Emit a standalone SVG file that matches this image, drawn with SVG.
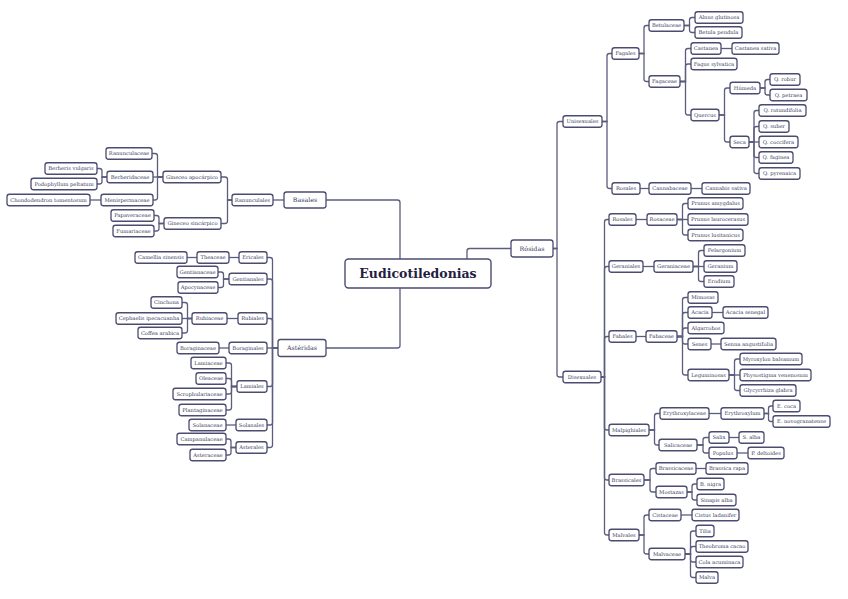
<svg xmlns="http://www.w3.org/2000/svg" width="848" height="599" viewBox="0 0 848 599">
<style>
.n rect{fill:#fff;stroke:#4b4c70;stroke-width:1.3}
.n text{font-family:"DejaVu Serif","Liberation Serif",serif;font-size:5.2px;fill:#3a3b5c;text-anchor:middle}
.l1 text{font-size:6.3px}
.root rect{stroke-width:1.4}
.root text{font-size:12.5px;font-weight:bold;fill:#1f2040}
.c path{fill:none;stroke:#5b5c7e;stroke-width:1.3}
</style>
<rect width="848" height="599" fill="#fff"/>
<g class="c" id="connectors">
<path d="M326 200H397.5Q400 200 400 202.5V259"/>
<path d="M467 259V251Q467 248.5 469.5 248.5H511"/>
<path d="M400 288V345.5Q400 348 397.5 348H326"/>
<path d="M553 248.5H557V124Q557 121.5 559.5 121.5H563"/>
<path d="M553 248.5H557V374.5Q557 377 559.5 377H563"/>
<path d="M602 121.5H607V56Q607 53.5 609.5 53.5H612"/>
<path d="M602 121.5H607V186Q607 188.5 609.5 188.5H612"/>
<path d="M639 53.5H644V28Q644 25.5 646.5 25.5H649"/>
<path d="M639 53.5H644V79Q644 81.5 646.5 81.5H649"/>
<path d="M684 25.5H689.5V20Q689.5 17.5 692 17.5H695"/>
<path d="M684 25.5H689.5V30Q689.5 32.5 692 32.5H695"/>
<path d="M680 81.5H685.5V51Q685.5 48.5 688 48.5H691"/>
<path d="M680 81.5H685.5V66.5Q685.5 64 688 64H691"/>
<path d="M680 81.5H685.5V112.5Q685.5 115 688 115H691"/>
<path d="M721 48.5H732"/>
<path d="M719 115H724.5V90.5Q724.5 88 727 88H730"/>
<path d="M719 115H724.5V139.5Q724.5 142 727 142H730"/>
<path d="M760 88H765V82Q765 79.5 767.5 79.5H770"/>
<path d="M760 88H765V92.5Q765 95 767.5 95H770"/>
<path d="M749 142H754V113Q754 110.5 756.5 110.5H759"/>
<path d="M749 142H754V129Q754 126.5 756.5 126.5H759"/>
<path d="M749 142H759"/>
<path d="M749 142H754V155Q754 157.5 756.5 157.5H759"/>
<path d="M749 142H754V171Q754 173.5 756.5 173.5H759"/>
<path d="M640 188.5H649"/>
<path d="M691 188.5H702"/>
<path d="M601 377H604.5V222Q604.5 219.5 607 219.5H609"/>
<path d="M601 377H604.5V269Q604.5 266.5 607 266.5H609"/>
<path d="M601 377H604.5V339Q604.5 336.5 607 336.5H609"/>
<path d="M601 377H604.5V427.5Q604.5 430 607 430H609"/>
<path d="M601 377H604.5V477.5Q604.5 480 607 480H609"/>
<path d="M601 377H604.5V532.5Q604.5 535 607 535H609"/>
<path d="M636 219.5H647"/>
<path d="M677 219.5H682.5V206Q682.5 203.5 685 203.5H688"/>
<path d="M677 219.5H688"/>
<path d="M677 219.5H682.5V232.5Q682.5 235 685 235H688"/>
<path d="M643 266.5H654"/>
<path d="M693 266.5H698.5V253Q698.5 250.5 701 250.5H704"/>
<path d="M693 266.5H704"/>
<path d="M693 266.5H698.5V279Q698.5 281.5 701 281.5H704"/>
<path d="M636 336.5H646"/>
<path d="M677 336.5H682.5V300Q682.5 297.5 685 297.5H688"/>
<path d="M677 336.5H682.5V315Q682.5 312.5 685 312.5H688"/>
<path d="M677 336.5H682.5V330.5Q682.5 328 685 328H688"/>
<path d="M677 336.5H682.5V341.5Q682.5 344 685 344H688"/>
<path d="M677 336.5H682.5V372.5Q682.5 375 685 375H688"/>
<path d="M712 312.5H723"/>
<path d="M711 344H721"/>
<path d="M729 375H734.5V361.5Q734.5 359 737 359H740"/>
<path d="M729 375H740"/>
<path d="M729 375H734.5V388Q734.5 390.5 737 390.5H740"/>
<path d="M649 430H654.5V416Q654.5 413.5 657 413.5H660"/>
<path d="M649 430H654.5V442.5Q654.5 445 657 445H659"/>
<path d="M709 413.5H721"/>
<path d="M764 413.5H768.5V408.5Q768.5 406 771 406H773"/>
<path d="M764 413.5H768.5V419Q768.5 421.5 771 421.5H773"/>
<path d="M697 445H703V440Q703 437.5 705.5 437.5H709"/>
<path d="M697 445H703V450.5Q703 453 705.5 453H709"/>
<path d="M729 437.5H739"/>
<path d="M737 453H748"/>
<path d="M644 480H650V471Q650 468.5 652.5 468.5H656"/>
<path d="M644 480H650V489.5Q650 492 652.5 492H656"/>
<path d="M696 468.5H706"/>
<path d="M687 492H692V486.5Q692 484 694.5 484H697"/>
<path d="M687 492H692V497.5Q692 500 694.5 500H697"/>
<path d="M639 535H644V517.5Q644 515 646.5 515H649"/>
<path d="M639 535H644V551.5Q644 554 646.5 554H649"/>
<path d="M681 515H692"/>
<path d="M685 554H690.5V533.5Q690.5 531 693 531H696"/>
<path d="M685 554H690.5V549Q690.5 546.5 693 546.5H696"/>
<path d="M685 554H690.5V559.5Q690.5 562 693 562H696"/>
<path d="M685 554H690.5V575Q690.5 577.5 693 577.5H696"/>
<path d="M284 200H273"/>
<path d="M232 200H227.5V179.5Q227.5 177 225 177H221"/>
<path d="M232 200H227.5V221Q227.5 223.5 225 223.5H221"/>
<path d="M163 177H157.5V156Q157.5 153.5 155 153.5H152"/>
<path d="M163 177H153"/>
<path d="M163 177H157.5V197.5Q157.5 200 155 200H153"/>
<path d="M107 177H102V171Q102 168.5 99.5 168.5H97"/>
<path d="M107 177H102V181.5Q102 184 99.5 184H97"/>
<path d="M101 200H90"/>
<path d="M164 223.5H159V218Q159 215.5 156.5 215.5H154"/>
<path d="M164 223.5H159V228.5Q159 231 156.5 231H154"/>
<path d="M278 348H272.5V260Q272.5 257.5 270 257.5H267"/>
<path d="M278 348H272.5V281.5Q272.5 279 270 279H267"/>
<path d="M278 348H272.5V321Q272.5 318.5 270 318.5H267"/>
<path d="M278 348H267"/>
<path d="M278 348H272.5V384Q272.5 386.5 270 386.5H267"/>
<path d="M278 348H272.5V422.5Q272.5 425 270 425H267"/>
<path d="M278 348H272.5V445Q272.5 447.5 270 447.5H267"/>
<path d="M239 257.5H229"/>
<path d="M197 257.5H187"/>
<path d="M229 279H223.5V274.5Q223.5 272 221 272H218"/>
<path d="M229 279H223.5V285Q223.5 287.5 221 287.5H218"/>
<path d="M238 318.5H227"/>
<path d="M192 318.5H187.5V305Q187.5 302.5 185 302.5H182"/>
<path d="M192 318.5H182"/>
<path d="M192 318.5H187.5V330.5Q187.5 333 185 333H182"/>
<path d="M229 348H219"/>
<path d="M237 386.5H231.5V365.5Q231.5 363 229 363H226"/>
<path d="M237 386.5H231.5V381Q231.5 378.5 229 378.5H226"/>
<path d="M237 386.5H231.5V391.5Q231.5 394 229 394H226"/>
<path d="M237 386.5H231.5V407.5Q231.5 410 229 410H226"/>
<path d="M236 425H226"/>
<path d="M236 447.5H231V441.5Q231 439 228.5 439H226"/>
<path d="M236 447.5H231V452.5Q231 455 228.5 455H226"/>
</g>
<g class="n root" id="eudicotiledonias"><rect x="345" y="259" width="146" height="29" rx="3.5"/><text x="418" y="278">Eudicotiledonias</text></g>
<g class="n l1" id="basales"><rect x="284" y="192" width="42" height="16" rx="2.5"/><text x="305" y="202.3">Basales</text></g>
<g class="n l1" id="rosidas"><rect x="511" y="240" width="42" height="17" rx="2.5"/><text x="532" y="250.8">Rósidas</text></g>
<g class="n l1" id="asteridas"><rect x="278" y="339.5" width="48" height="17" rx="2.5"/><text x="302" y="350.3">Astéridas</text></g>
<g class="n" id="unisexuales"><rect x="563" y="115.75" width="39" height="11.5" rx="2.5"/><text x="582.5" y="123.4">Unisexuales</text></g>
<g class="n" id="disexuales"><rect x="563" y="371.25" width="38" height="11.5" rx="2.5"/><text x="582" y="378.9">Disexuales</text></g>
<g class="n" id="fagales"><rect x="612" y="47.75" width="27" height="11.5" rx="2.5"/><text x="625.5" y="55.4">Fagales</text></g>
<g class="n" id="rosales-u"><rect x="612" y="182.75" width="28" height="11.5" rx="2.5"/><text x="626" y="190.4">Rosales</text></g>
<g class="n" id="betulaceae"><rect x="649" y="19.75" width="35" height="11.5" rx="2.5"/><text x="666.5" y="27.4">Betulaceae</text></g>
<g class="n" id="fagaceae"><rect x="649" y="75.75" width="31" height="11.5" rx="2.5"/><text x="664.5" y="83.4">Fagaceae</text></g>
<g class="n" id="alnus"><rect x="695" y="11.75" width="48" height="11.5" rx="2.5"/><text x="719" y="19.4">Alnus glutinosa</text></g>
<g class="n" id="betula"><rect x="695" y="26.75" width="47" height="11.5" rx="2.5"/><text x="718.5" y="34.4">Betula pendula</text></g>
<g class="n" id="castanea"><rect x="691" y="42.75" width="30" height="11.5" rx="2.5"/><text x="706" y="50.4">Castanea</text></g>
<g class="n" id="castanea-sativa"><rect x="732" y="42.75" width="47" height="11.5" rx="2.5"/><text x="755.5" y="50.4">Castanea sativa</text></g>
<g class="n" id="fagus"><rect x="691" y="58.25" width="46" height="11.5" rx="2.5"/><text x="714" y="65.9">Fagus sylvatica</text></g>
<g class="n" id="quercus"><rect x="691" y="109.25" width="28" height="11.5" rx="2.5"/><text x="705" y="116.9">Quercus</text></g>
<g class="n" id="humeda"><rect x="730" y="82.25" width="30" height="11.5" rx="2.5"/><text x="745" y="89.9">Húmeda</text></g>
<g class="n" id="seca"><rect x="730" y="136.25" width="19" height="11.5" rx="2.5"/><text x="739.5" y="143.9">Seca</text></g>
<g class="n" id="q-robur"><rect x="770" y="73.75" width="30" height="11.5" rx="2.5"/><text x="785" y="81.4">Q. robur</text></g>
<g class="n" id="q-petraea"><rect x="770" y="89.25" width="37" height="11.5" rx="2.5"/><text x="788.5" y="96.9">Q. petraea</text></g>
<g class="n" id="q-rotundifolia"><rect x="759" y="104.75" width="47" height="11.5" rx="2.5"/><text x="782.5" y="112.4">Q. rotundifolia</text></g>
<g class="n" id="q-suber"><rect x="759" y="120.75" width="30" height="11.5" rx="2.5"/><text x="774" y="128.4">Q. suber</text></g>
<g class="n" id="q-coccifera"><rect x="759" y="136.25" width="39" height="11.5" rx="2.5"/><text x="778.5" y="143.9">Q. coccifera</text></g>
<g class="n" id="q-faginea"><rect x="759" y="151.75" width="34" height="11.5" rx="2.5"/><text x="776" y="159.4">Q. faginea</text></g>
<g class="n" id="q-pyrenaica"><rect x="759" y="167.75" width="41" height="11.5" rx="2.5"/><text x="779.5" y="175.4">Q. pyrenaica</text></g>
<g class="n" id="cannabaceae"><rect x="649" y="182.75" width="42" height="11.5" rx="2.5"/><text x="670" y="190.4">Cannabaceae</text></g>
<g class="n" id="cannabis"><rect x="702" y="182.75" width="48" height="11.5" rx="2.5"/><text x="726" y="190.4">Cannabis sativa</text></g>
<g class="n" id="rosales-d"><rect x="609" y="213.75" width="27" height="11.5" rx="2.5"/><text x="622.5" y="221.4">Rosales</text></g>
<g class="n" id="rosaceae"><rect x="647" y="213.75" width="30" height="11.5" rx="2.5"/><text x="662" y="221.4">Rosaceae</text></g>
<g class="n" id="prunus-amygdalus"><rect x="688" y="197.75" width="55" height="11.5" rx="2.5"/><text x="715.5" y="205.4">Prunus amygdalus</text></g>
<g class="n" id="prunus-laurocerasus"><rect x="688" y="213.75" width="60" height="11.5" rx="2.5"/><text x="718" y="221.4">Prunus laurocerasus</text></g>
<g class="n" id="prunus-lusitanicus"><rect x="688" y="229.25" width="55" height="11.5" rx="2.5"/><text x="715.5" y="236.9">Prunus lusitanicus</text></g>
<g class="n" id="geraniales"><rect x="609" y="260.75" width="34" height="11.5" rx="2.5"/><text x="626" y="268.4">Geraniales</text></g>
<g class="n" id="geraniaceae"><rect x="654" y="260.75" width="39" height="11.5" rx="2.5"/><text x="673.5" y="268.4">Geraniaceae</text></g>
<g class="n" id="pelargonium"><rect x="704" y="244.75" width="41" height="11.5" rx="2.5"/><text x="724.5" y="252.4">Pelargonium</text></g>
<g class="n" id="geranium"><rect x="704" y="260.75" width="33" height="11.5" rx="2.5"/><text x="720.5" y="268.4">Geranium</text></g>
<g class="n" id="erodium"><rect x="704" y="275.75" width="30" height="11.5" rx="2.5"/><text x="719" y="283.4">Erodium</text></g>
<g class="n" id="fabales"><rect x="609" y="330.75" width="27" height="11.5" rx="2.5"/><text x="622.5" y="338.4">Fabales</text></g>
<g class="n" id="fabaceae"><rect x="646" y="330.75" width="31" height="11.5" rx="2.5"/><text x="661.5" y="338.4">Fabaceae</text></g>
<g class="n" id="mimosas"><rect x="688" y="291.75" width="30" height="11.5" rx="2.5"/><text x="703" y="299.4">Mimosas</text></g>
<g class="n" id="acacia"><rect x="688" y="306.75" width="24" height="11.5" rx="2.5"/><text x="700" y="314.4">Acacia</text></g>
<g class="n" id="acacia-senegal"><rect x="723" y="306.75" width="45" height="11.5" rx="2.5"/><text x="745.5" y="314.4">Acacia senegal</text></g>
<g class="n" id="algarrobos"><rect x="688" y="322.25" width="36" height="11.5" rx="2.5"/><text x="706" y="329.9">Algarrobos</text></g>
<g class="n" id="senes"><rect x="688" y="338.25" width="23" height="11.5" rx="2.5"/><text x="699.5" y="345.9">Senes</text></g>
<g class="n" id="senna"><rect x="721" y="338.25" width="55" height="11.5" rx="2.5"/><text x="748.5" y="345.9">Senna angustifolia</text></g>
<g class="n" id="leguminosas"><rect x="688" y="369.25" width="41" height="11.5" rx="2.5"/><text x="708.5" y="376.9">Leguminosas</text></g>
<g class="n" id="myroxylon"><rect x="740" y="353.25" width="62" height="11.5" rx="2.5"/><text x="771" y="360.9">Myroxylon balsamum</text></g>
<g class="n" id="physostigma"><rect x="740" y="369.25" width="71" height="11.5" rx="2.5"/><text x="775.5" y="376.9">Physostigma venenosum</text></g>
<g class="n" id="glycyrrhiza"><rect x="740" y="384.75" width="56" height="11.5" rx="2.5"/><text x="768" y="392.4">Glycyrrhiza glabra</text></g>
<g class="n" id="malpighiales"><rect x="609" y="424.25" width="40" height="11.5" rx="2.5"/><text x="629" y="431.9">Malpighiales</text></g>
<g class="n" id="erythroxylaceae"><rect x="660" y="407.75" width="49" height="11.5" rx="2.5"/><text x="684.5" y="415.4">Erythroxylaceae</text></g>
<g class="n" id="erythroxylum"><rect x="721" y="407.75" width="43" height="11.5" rx="2.5"/><text x="742.5" y="415.4">Erythroxylum</text></g>
<g class="n" id="e-coca"><rect x="773" y="400.25" width="27" height="11.5" rx="2.5"/><text x="786.5" y="407.9">E. coca</text></g>
<g class="n" id="e-novogranatense"><rect x="773" y="415.75" width="57" height="11.5" rx="2.5"/><text x="801.5" y="423.4">E. novogranatense</text></g>
<g class="n" id="salicaceae"><rect x="659" y="439.25" width="38" height="11.5" rx="2.5"/><text x="678" y="446.9">Salicaceae</text></g>
<g class="n" id="salix"><rect x="709" y="431.75" width="20" height="11.5" rx="2.5"/><text x="719" y="439.4">Salix</text></g>
<g class="n" id="s-alba"><rect x="739" y="431.75" width="25" height="11.5" rx="2.5"/><text x="751.5" y="439.4">S. alba</text></g>
<g class="n" id="populus"><rect x="709" y="447.25" width="28" height="11.5" rx="2.5"/><text x="723" y="454.9">Populus</text></g>
<g class="n" id="p-deltoides"><rect x="748" y="447.25" width="36" height="11.5" rx="2.5"/><text x="766" y="454.9">P. deltoides</text></g>
<g class="n" id="brassicales"><rect x="609" y="474.25" width="35" height="11.5" rx="2.5"/><text x="626.5" y="481.9">Brassicales</text></g>
<g class="n" id="brassicaceae"><rect x="656" y="462.75" width="40" height="11.5" rx="2.5"/><text x="676" y="470.4">Brassicaceae</text></g>
<g class="n" id="brassica-rapa"><rect x="706" y="462.75" width="42" height="11.5" rx="2.5"/><text x="727" y="470.4">Brassica rapa</text></g>
<g class="n" id="mostazas"><rect x="656" y="486.25" width="31" height="11.5" rx="2.5"/><text x="671.5" y="493.9">Mostazas</text></g>
<g class="n" id="b-nigra"><rect x="697" y="478.25" width="27" height="11.5" rx="2.5"/><text x="710.5" y="485.9">B. nigra</text></g>
<g class="n" id="sinapis"><rect x="697" y="494.25" width="39" height="11.5" rx="2.5"/><text x="716.5" y="501.9">Sinapis alba</text></g>
<g class="n" id="malvales"><rect x="609" y="529.25" width="30" height="11.5" rx="2.5"/><text x="624" y="536.9">Malvales</text></g>
<g class="n" id="cistaceae"><rect x="649" y="509.25" width="32" height="11.5" rx="2.5"/><text x="665" y="516.9">Cistaceae</text></g>
<g class="n" id="cistus"><rect x="692" y="509.25" width="47" height="11.5" rx="2.5"/><text x="715.5" y="516.9">Cistus ladanifer</text></g>
<g class="n" id="malvaceae"><rect x="649" y="548.25" width="36" height="11.5" rx="2.5"/><text x="667" y="555.9">Malvaceae</text></g>
<g class="n" id="tilia"><rect x="696" y="525.25" width="18" height="11.5" rx="2.5"/><text x="705" y="532.9">Tilia</text></g>
<g class="n" id="theobroma"><rect x="696" y="540.75" width="52" height="11.5" rx="2.5"/><text x="722" y="548.4">Theobroma cacao</text></g>
<g class="n" id="cola"><rect x="696" y="556.25" width="47" height="11.5" rx="2.5"/><text x="719.5" y="563.9">Cola acuminaca</text></g>
<g class="n" id="malva"><rect x="696" y="571.75" width="22" height="11.5" rx="2.5"/><text x="707" y="579.4">Malva</text></g>
<g class="n" id="ranunculales"><rect x="232" y="194.25" width="41" height="11.5" rx="2.5"/><text x="252.5" y="201.9">Ranunculales</text></g>
<g class="n" id="apocarpico"><rect x="163" y="171.25" width="58" height="11.5" rx="2.5"/><text x="192" y="178.9">Gineceo apocárpico</text></g>
<g class="n" id="sincarpico"><rect x="164" y="217.75" width="57" height="11.5" rx="2.5"/><text x="192.5" y="225.4">Gineceo sincárpico</text></g>
<g class="n" id="ranunculaceae"><rect x="106" y="147.75" width="46" height="11.5" rx="2.5"/><text x="129" y="155.4">Ranunculaceae</text></g>
<g class="n" id="berberidaceae"><rect x="107" y="171.25" width="46" height="11.5" rx="2.5"/><text x="130" y="178.9">Berberidaceae</text></g>
<g class="n" id="menispermaceae"><rect x="101" y="194.25" width="52" height="11.5" rx="2.5"/><text x="127" y="201.9">Menispermaceae</text></g>
<g class="n" id="berberis"><rect x="45" y="162.75" width="52" height="11.5" rx="2.5"/><text x="71" y="170.4">Berberis vulgaris</text></g>
<g class="n" id="podophyllum"><rect x="31" y="178.25" width="66" height="11.5" rx="2.5"/><text x="64" y="185.9">Podophyllum peltatum</text></g>
<g class="n" id="chondodendron"><rect x="7" y="194.25" width="83" height="11.5" rx="2.5"/><text x="48.5" y="201.9">Chondodendron tomentosum</text></g>
<g class="n" id="papaveraceae"><rect x="111" y="209.75" width="43" height="11.5" rx="2.5"/><text x="132.5" y="217.4">Papaveraceae</text></g>
<g class="n" id="fumariaceae"><rect x="113" y="225.25" width="41" height="11.5" rx="2.5"/><text x="133.5" y="232.9">Fumariaceae</text></g>
<g class="n" id="ericales"><rect x="239" y="251.75" width="28" height="11.5" rx="2.5"/><text x="253" y="259.4">Ericales</text></g>
<g class="n" id="theaceae"><rect x="197" y="251.75" width="32" height="11.5" rx="2.5"/><text x="213" y="259.4">Theaceae</text></g>
<g class="n" id="camellia"><rect x="135" y="251.75" width="52" height="11.5" rx="2.5"/><text x="161" y="259.4">Camellia sinensis</text></g>
<g class="n" id="gentianales"><rect x="229" y="273.25" width="38" height="11.5" rx="2.5"/><text x="248" y="280.9">Gentianales</text></g>
<g class="n" id="gentianaceae"><rect x="177" y="266.25" width="41" height="11.5" rx="2.5"/><text x="197.5" y="273.9">Gentianaceae</text></g>
<g class="n" id="apocynaceae"><rect x="178" y="281.75" width="40" height="11.5" rx="2.5"/><text x="198" y="289.4">Apocynaceae</text></g>
<g class="n" id="rubiales"><rect x="238" y="312.75" width="29" height="11.5" rx="2.5"/><text x="252.5" y="320.4">Rubiales</text></g>
<g class="n" id="rubiaceae"><rect x="192" y="312.75" width="35" height="11.5" rx="2.5"/><text x="209.5" y="320.4">Rubiaceae</text></g>
<g class="n" id="cinchona"><rect x="151" y="296.75" width="31" height="11.5" rx="2.5"/><text x="166.5" y="304.4">Cinchona</text></g>
<g class="n" id="cephaelis"><rect x="116" y="312.75" width="66" height="11.5" rx="2.5"/><text x="149" y="320.4">Cephaelis ipecacuanha</text></g>
<g class="n" id="coffea"><rect x="138" y="327.25" width="44" height="11.5" rx="2.5"/><text x="160" y="334.9">Coffea arabica</text></g>
<g class="n" id="boraginales"><rect x="229" y="342.25" width="38" height="11.5" rx="2.5"/><text x="248" y="349.9">Boraginales</text></g>
<g class="n" id="boraginaceae"><rect x="177" y="342.25" width="42" height="11.5" rx="2.5"/><text x="198" y="349.9">Boraginaceae</text></g>
<g class="n" id="lamiales"><rect x="237" y="380.75" width="30" height="11.5" rx="2.5"/><text x="252" y="388.4">Lamiales</text></g>
<g class="n" id="lamiaceae"><rect x="191" y="357.25" width="35" height="11.5" rx="2.5"/><text x="208.5" y="364.9">Lamiaceae</text></g>
<g class="n" id="oleaceae"><rect x="196" y="372.75" width="30" height="11.5" rx="2.5"/><text x="211" y="380.4">Oleaceae</text></g>
<g class="n" id="scrophulariaceae"><rect x="173" y="388.25" width="53" height="11.5" rx="2.5"/><text x="199.5" y="395.9">Scrophulariaceae</text></g>
<g class="n" id="plantaginaceae"><rect x="179" y="404.25" width="47" height="11.5" rx="2.5"/><text x="202.5" y="411.9">Plantaginaceae</text></g>
<g class="n" id="solanales"><rect x="236" y="419.25" width="31" height="11.5" rx="2.5"/><text x="251.5" y="426.9">Solanales</text></g>
<g class="n" id="solanaceae"><rect x="189" y="419.25" width="37" height="11.5" rx="2.5"/><text x="207.5" y="426.9">Solanaceae</text></g>
<g class="n" id="asterales"><rect x="236" y="441.75" width="31" height="11.5" rx="2.5"/><text x="251.5" y="449.4">Asterales</text></g>
<g class="n" id="campanulaceae"><rect x="177" y="433.25" width="49" height="11.5" rx="2.5"/><text x="201.5" y="440.9">Campanulaceae</text></g>
<g class="n" id="asteraceae"><rect x="190" y="449.25" width="36" height="11.5" rx="2.5"/><text x="208" y="456.9">Asteraceae</text></g>
</svg>
